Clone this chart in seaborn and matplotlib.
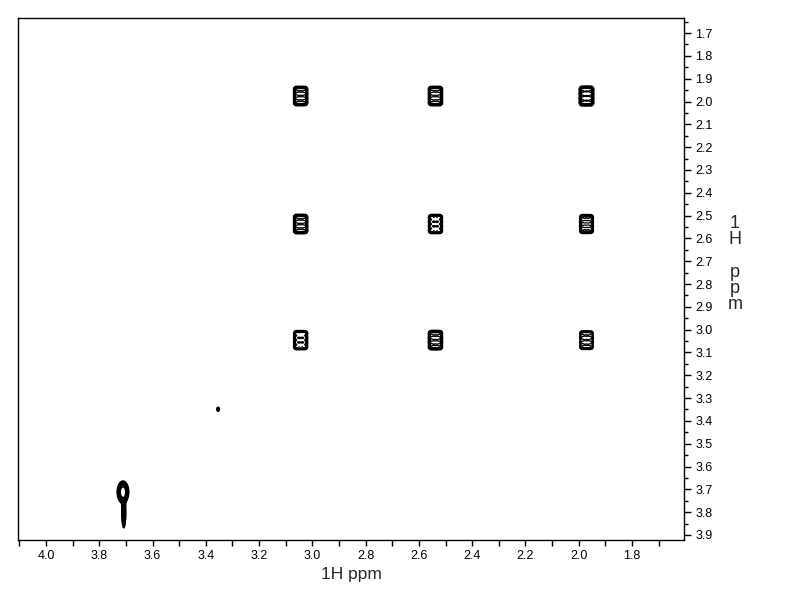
import numpy as np
import matplotlib.pyplot as plt
import seaborn as sns
from matplotlib.ticker import MultipleLocator

sns.set_style("white")
plt.rcParams['font.family'] = ['Liberation Sans', 'DejaVu Sans']

# --- Peak data (ppm) ---
# cross/diagonal peak grid
peak_x = [3.044, 2.538, 1.971]
peak_y = [1.976, 2.537, 3.046]
peak_height = [[1.0, 1.0, 1.2],
               [1.0, 0.9, 0.8],
               [0.9, 1.0, 0.7]]
# multiplet fine structure offsets (ppm)
split_x = [-0.018, -0.006, 0.006, 0.018]
split_y = [-0.03, -0.01, 0.01, 0.03]

# isolated peaks: x, y, sigma_x, sigma_y, height
extra_x = [3.711, 3.708, 3.354]
extra_y = [3.712, 3.800, 3.349]
extra_sx = [0.009, 0.0045, 0.003]
extra_sy = [0.020, 0.040, 0.006]
extra_h = [2.0, 0.45, 0.35]

xs = np.linspace(1.55, 4.15, 1400)
ys = np.linspace(1.60, 3.95, 1300)
X, Y = np.meshgrid(xs, ys)
Z = np.zeros_like(X)

sig_x, sig_y = 0.0060, 0.0080
for i, py in enumerate(peak_y):
    for j, px in enumerate(peak_x):
        for dx in split_x:
            for dy in split_y:
                Z += peak_height[i][j] * 0.3 * np.exp(
                    -((X - px - dx) ** 2) / (2 * sig_x ** 2)
                    - ((Y - py - dy) ** 2) / (2 * sig_y ** 2))

for px, py, sx, sy, h in zip(extra_x, extra_y, extra_sx, extra_sy, extra_h):
    Z += h * np.exp(-((X - px) ** 2) / (2 * sx ** 2) - ((Y - py) ** 2) / (2 * sy ** 2))

levels = [0.1, 0.14, 0.19, 0.25, 0.3, 0.36, 0.42, 0.5, 0.6, 0.8, 1.1]

fig = plt.figure(figsize=(7.92, 6.12), dpi=100)
ax = fig.add_axes([18 / 792, 1 - 540 / 612, (684 - 18) / 792, (540 - 18) / 612])
ax.contour(X, Y, Z, levels=levels, colors='black', linewidths=0.9)

ax.set_xlim(4.105, 1.605)
ax.set_ylim(3.922, 1.634)

ax.xaxis.set_major_locator(MultipleLocator(0.2))
ax.xaxis.set_minor_locator(MultipleLocator(0.1))
ax.yaxis.set_major_locator(MultipleLocator(0.1))
ax.yaxis.set_minor_locator(MultipleLocator(0.05))
ax.xaxis.set_major_formatter(plt.FormatStrFormatter('%.1f'))
ax.yaxis.set_major_formatter(plt.FormatStrFormatter('%.1f'))

ax.yaxis.tick_right()
ax.tick_params(axis='both', which='major', direction='out', width=1,
               colors='black', labelsize=9, pad=3,
               bottom=True, left=False, top=False, right=True)
ax.tick_params(axis='both', which='minor', direction='out', width=1,
               colors='black', bottom=True, left=False, top=False, right=True)
ax.tick_params(axis='y', which='major', length=5)
ax.tick_params(axis='y', which='minor', length=3)
ax.tick_params(axis='x', which='both', length=4)
for s in ax.spines.values():
    s.set_color('black')
    s.set_linewidth(1)

ax.set_xlabel('1H ppm', fontsize=12.5, labelpad=4)
fig.text(735 / 792, 1 - 264 / 612, '1\nH\n\np\np\nm', fontsize=13,
         ha='center', va='center', linespacing=0.95)

fig.savefig('out.png', dpi=100)
